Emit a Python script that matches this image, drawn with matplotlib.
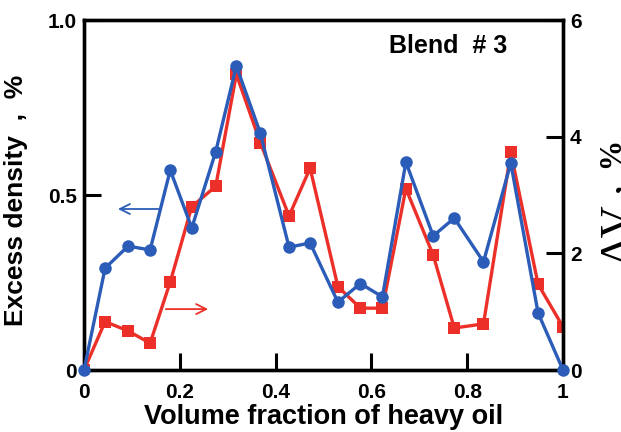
import matplotlib
matplotlib.use("Agg")
import matplotlib.pyplot as plt

plt.rcParams['font.family'] = ['Liberation Sans', 'DejaVu Sans']
plt.rcParams['font.weight'] = 'bold'

# volume fraction of heavy oil
frac = [0.0, 0.044, 0.092, 0.138, 0.18, 0.225, 0.275, 0.318, 0.368, 0.428,
        0.472, 0.53, 0.577, 0.623, 0.672, 0.729, 0.773, 0.834, 0.891, 0.948, 1.0]
# excess density, % (left axis)
excess_density = [0.0, 0.291, 0.354, 0.343, 0.571, 0.406, 0.624, 0.869, 0.677, 0.351,
                  0.363, 0.194, 0.247, 0.209, 0.594, 0.383, 0.434, 0.309, 0.591, 0.163, 0.0]
# delta V, % (right axis)
delta_v = [0.0, 0.83, 0.67, 0.46, 1.51, 2.80, 3.15, 5.07, 3.90, 2.64,
           3.46, 1.43, 1.06, 1.06, 3.11, 1.97, 0.72, 0.79, 3.73, 1.47, 0.74]

blue = '#2a5cb8'
red = '#ec3029'

fig = plt.figure(figsize=(6.21, 4.32), dpi=100)
ax = fig.add_axes([0.1353, 0.1435, 0.7713, 0.8102])
ax2 = ax.twinx()

ax2.plot(frac, delta_v, '-s', color=red, lw=2.4, ms=8, markeredgewidth=0, zorder=2)
ax.plot(frac, excess_density, '-o', color=blue, lw=2.4, ms=9, markeredgewidth=0,
        zorder=3, clip_on=False)
ax.set_zorder(ax2.get_zorder() + 1)
ax.patch.set_visible(False)

ax.set_xlim(0, 1)
ax.set_ylim(0, 1)
ax2.set_ylim(0, 6)

ax.set_xticks([0, 0.2, 0.4, 0.6, 0.8, 1])
ax.set_xticklabels(['0', '0.2', '0.4', '0.6', '0.8', '1'])
ax.set_yticks([0, 0.5, 1.0])
ax.set_yticklabels(['0', '0.5', '1.0'])
ax2.set_yticks([0, 2, 4, 6])

for a in (ax, ax2):
    a.tick_params(direction='in', length=12, width=2.2, labelsize=15, pad=5)
    for s in a.spines.values():
        s.set_linewidth(2.4)
ax.tick_params(axis='x', pad=9)

ax.set_xlabel('Volume fraction of heavy oil', fontsize=19.5, fontweight='bold', labelpad=2)
ax.set_ylabel('Excess density  ,  %', fontsize=19, fontweight='bold')
ax.yaxis.set_label_coords(-0.118, 0.485)

ax.text(0.636, 0.925, 'Blend  # 3', transform=ax.transAxes, fontsize=18,
        fontweight='bold', ha='left', va='center')

# arrows pointing to each curve's axis
ax.annotate('', xy=(0.065, 0.46), xytext=(0.167, 0.46),
            arrowprops=dict(arrowstyle='->', color=blue, lw=1.3, mutation_scale=18))
ax.annotate('', xy=(0.265, 0.174), xytext=(0.165, 0.174),
            arrowprops=dict(arrowstyle='->', color=red, lw=1.3, mutation_scale=18))

# right-hand axis label, partly off the figure edge
fig.text(598 / 621, 1 - 264 / 432, 'ΔV', rotation=90, family='Liberation Serif',
         fontsize=32, fontweight='normal', ha='left', va='bottom')
fig.text(599 / 621, 1 - 140 / 432, ',  %', rotation=90, family='Liberation Serif',
         fontsize=22, fontweight='bold', ha='left', va='top')

fig.savefig('out.png', dpi=100)
